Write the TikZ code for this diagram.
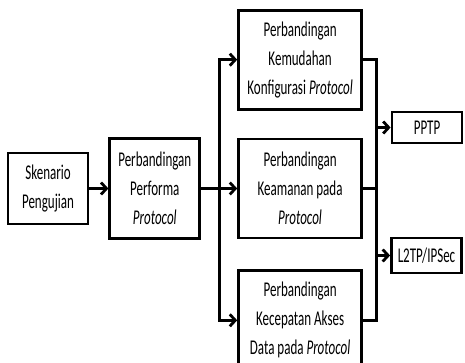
\documentclass[tikz,border=0pt]{standalone}
\usepackage{fontspec}
\setmainfont{Carlito}[FakeStretch=0.62]
\usetikzlibrary{positioning,calc,arrows.meta}

\begin{document}
\begin{tikzpicture}[
        x=1pt, y=-1pt,
        box/.style={
            draw,
            rectangle,
            line width=2.8pt,
            align=center,
            inner sep=3pt,
            font=\fontsize{21}{29}\selectfont
        },
        widebox/.style={box, minimum width=123pt, minimum height=99pt},
        outbox/.style={box, minimum width=70pt},
        line/.style={line width=2.8pt},
        arrow/.style={line, -{Straight Barb[length=5.5pt,width=12pt]}}
    ]

    \fill[white] (0,0) rectangle (465,363);
    \useasboundingbox (0,0) rectangle (465,363);

    % Input side
    \node[box, minimum width=80pt, minimum height=71pt] (skenario) at (48,188.5) {%
    Skenario\\Pengujian};

    \node[box, minimum width=90pt, minimum height=100pt] (performa) [right=19pt of skenario] {%
    Perbandingan\\Performa\\\textit{Protocol}};

    % Comparisons
    \node[widebox] (keamanan) [right=36pt of performa] {%
    Perbandingan\\Keamanan pada\\\textit{Protocol}};

    \node[widebox] (kemudahan) [above=27pt of keamanan] {%
    Perbandingan\\Kemudahan\\Konfigurasi \textit{Protocol}};

    \node[widebox] (kecepatan) [below=30pt of keamanan] {%
    Perbandingan\\Kecepatan Akses\\Data pada \textit{Protocol}};

    % Protocols
    \node[outbox, minimum height=31pt] (pptp) at (427,127.5) {PPTP};
    \node[outbox, minimum height=35pt] (l2tp) at (426.5,255.5) {L2TP/IPSec};

    \coordinate (split) at ($(performa.east)!0.5!(keamanan.west)$);
    \coordinate (merge) at ($(keamanan.east)!0.5!(pptp.west |- keamanan.east)$);

    % Arrows
    \draw[arrow] (skenario) -- (performa);
    \draw[arrow] (performa) -- (keamanan);
    \draw[arrow] (split) |- (kemudahan.west);
    \draw[arrow] (split) |- (kecepatan.west);
    \draw[line] (kemudahan.east) -| (merge);
    \draw[line] (kecepatan.east) -| (merge);
    \draw[line] (keamanan) -- (merge);
    \draw[arrow] (merge) |- (pptp);
    \draw[arrow] (merge) |- (l2tp);

\end{tikzpicture}
\end{document}
